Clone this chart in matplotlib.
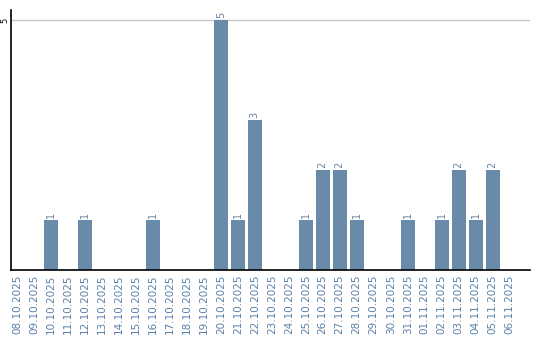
import matplotlib
matplotlib.use("Agg")
import matplotlib.pyplot as plt

dates = ["08.10.2025", "09.10.2025", "10.10.2025", "11.10.2025", "12.10.2025",
         "13.10.2025", "14.10.2025", "15.10.2025", "16.10.2025", "17.10.2025",
         "18.10.2025", "19.10.2025", "20.10.2025", "21.10.2025", "22.10.2025",
         "23.10.2025", "24.10.2025", "25.10.2025", "26.10.2025", "27.10.2025",
         "28.10.2025", "29.10.2025", "30.10.2025", "31.10.2025", "01.11.2025",
         "02.11.2025", "03.11.2025", "04.11.2025", "05.11.2025", "06.11.2025"]
counts = [0, 0, 1, 0, 1, 0, 0, 0, 1, 0, 0, 0, 5, 1, 3, 0, 0, 1, 2, 2, 1, 0, 0, 1, 0, 1, 2, 1, 2, 0]

bar_color = "#6a8aaa"
label_color = "#5b80a8"

fig = plt.figure(figsize=(5.4, 3.4), dpi=100)
ax = fig.add_axes([11/540, 1-270/340, (530-11)/540, 260/340])

x = list(range(len(dates)))
ax.bar(x, counts, width=0.82, color=bar_color, zorder=2)
for xi, c in zip(x, counts):
    if c > 0:
        ax.text(xi, c + 0.04, str(c), rotation=90, ha="center", va="bottom",
                fontsize=7, color="#6a84a0")

ax.set_xlim(-0.35, 30.2)
ax.set_ylim(0, 5.2)
ax.set_yticks([5])
ax.set_yticklabels(["5"], rotation=90, va="center", fontsize=6)
ax.yaxis.grid(True, color="#c8c8c8", linewidth=1, zorder=0)
ax.tick_params(axis="y", length=0, pad=1)
ax.set_xticks(x)
ax.set_xticklabels(dates, rotation=90, fontsize=7.5, color=label_color)
ax.tick_params(axis="x", length=0, pad=3)
for s in ["top", "right"]:
    ax.spines[s].set_visible(False)
ax.spines["left"].set_linewidth(1.2)
ax.spines["bottom"].set_linewidth(1.2)

fig.savefig("out.png", dpi=100)
